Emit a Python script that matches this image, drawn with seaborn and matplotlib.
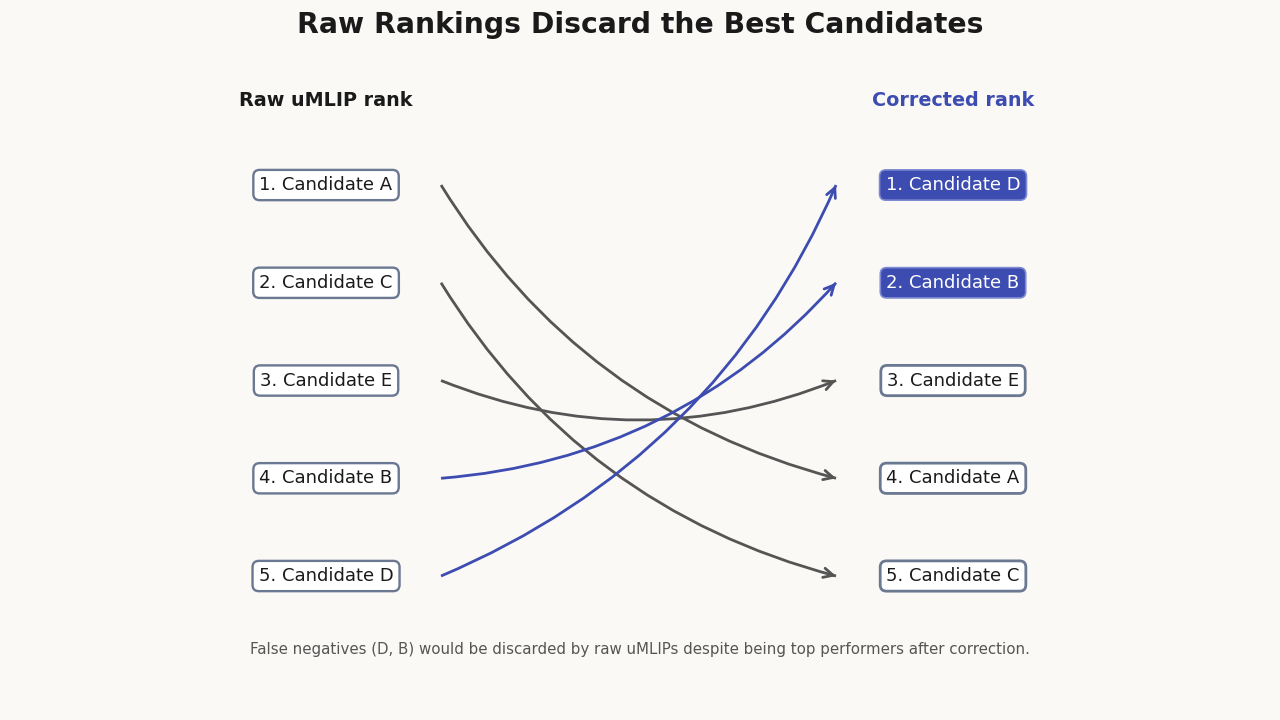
import matplotlib
matplotlib.use("Agg")
import numpy as np
import matplotlib.pyplot as plt
import matplotlib.transforms as mtransforms
from matplotlib.patches import FancyArrowPatch
import seaborn as sns

# ---- data ----
raw_order = ["A", "C", "E", "B", "D"]          # raw uMLIP ranking (1..5)
corrected_order = ["D", "B", "E", "A", "C"]    # corrected ranking (1..5)
top_k = 2                                      # highlighted top performers
title = "Raw Rankings Discard the Best Candidates"
left_header = "Raw uMLIP rank"
right_header = "Corrected rank"
footnote = ("False negatives (D, B) would be discarded by raw uMLIPs "
            "despite being top performers after correction.")

# ---- style ----
BG = "#FAF9F6"
BLUE = "#3D4CB0"
BLUE_EDGE = "#7D89D2"
GRAY = "#555555"
SLATE = "#6B7891"
DARK = "#1A1A1A"
RAD = 0.2

sns.set_theme(style="white")
plt.rcParams["font.family"] = ["DejaVu Sans"]

fig = plt.figure(figsize=(12.8, 7.2), dpi=100, facecolor=BG)
ax = fig.add_axes([0, 0, 1, 1])
ax.set_facecolor(BG)
ax.set_xlim(-0.520, 1.5215)
ax.set_ylim(6.473, -0.893)
ax.axis("off")

x_left, x_right = 0.0, 1.0
arrow_x0, arrow_x1 = 0.1834, 0.8134

blend = mtransforms.blended_transform_factory(ax.transData, fig.transFigure)

fig.text(0.5, 0.965, title, ha="center", va="center", fontsize=20.3,
         fontweight="bold", color=DARK)
ax.text(x_left, 0.86, left_header, transform=blend, ha="center", va="center",
        fontsize=13.8, fontweight="bold", color=DARK)
ax.text(x_right, 0.86, right_header, transform=blend, ha="center", va="center",
        fontsize=13.8, fontweight="bold", color=BLUE)

# left boxes
for i, c in enumerate(raw_order):
    ax.text(x_left, i + 1, f"{i + 1}. Candidate {c}", ha="center", va="center",
            fontsize=13, color=DARK,
            bbox=dict(boxstyle="round,pad=0.34,rounding_size=0.35", fc="white",
                      ec=SLATE, lw=1.7))

# right boxes
for i, c in enumerate(corrected_order):
    hi = i < top_k
    ax.text(x_right, i + 1, f"{i + 1}. Candidate {c}", ha="center", va="center",
            fontsize=13, color="white" if hi else DARK,
            bbox=dict(boxstyle="round,pad=0.34,rounding_size=0.35",
                      fc=BLUE if hi else "white",
                      ec=BLUE_EDGE if hi else SLATE, lw=1.2 if hi else 2.0))

# arrows: smooth curved body + open head along the end tangent
top_set = set(corrected_order[:top_k])
inv = ax.transData.inverted()
for i, c in enumerate(raw_order):
    j = corrected_order.index(c)
    col = BLUE if c in top_set else GRAY
    p0 = (arrow_x0, i + 1)
    p1 = (arrow_x1, j + 1)
    body = FancyArrowPatch(p0, p1, connectionstyle=f"arc3,rad={RAD}",
                           arrowstyle="-", lw=2.0, color=col,
                           shrinkA=0, shrinkB=0, capstyle="butt")
    ax.add_patch(body)
    # tangent direction at the end point of the arc3 curve (display coords)
    d0 = ax.transData.transform(p0)
    d1 = ax.transData.transform(p1)
    mid = (d0 + d1) / 2
    dx, dy = d1 - d0
    ctrl = mid + RAD * np.array([dy, -dx])
    t = (d1 - ctrl) / np.linalg.norm(d1 - ctrl)
    tail = inv.transform(d1 - 6 * t)
    head = FancyArrowPatch(tuple(tail), p1, arrowstyle="->",
                           mutation_scale=17, lw=2.0, color=col,
                           shrinkA=0, shrinkB=0)
    ax.add_patch(head)

fig.text(0.5, 0.0986, footnote, ha="center", va="center", fontsize=10.8,
         color=GRAY)

fig.savefig("out.png", dpi=100, facecolor=BG)
